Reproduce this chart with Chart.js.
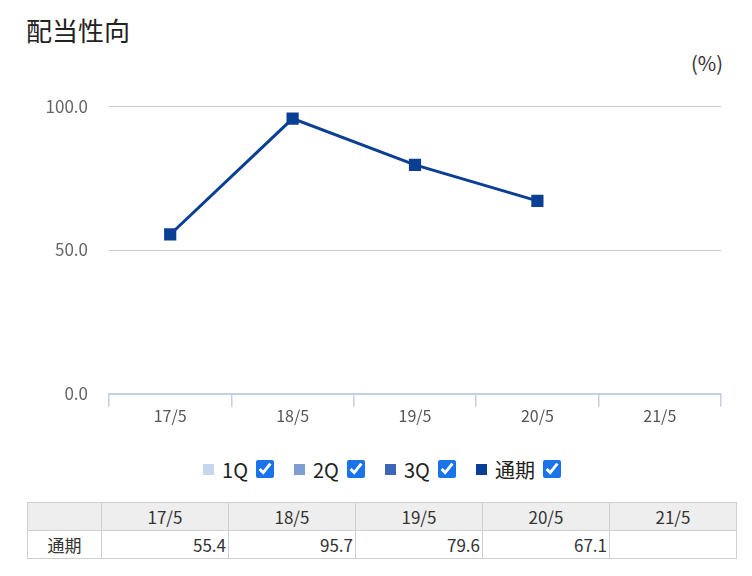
<!DOCTYPE html>
<html lang="ja">
<head>
<meta charset="utf-8">
<script src="https://cdn.jsdelivr.net/npm/chart.js@4/dist/chart.umd.min.js"></script>
<style>
  html, body { margin: 0; padding: 0; background: #fff; }
  body { width: 752px; height: 576px; position: relative; overflow: hidden;
         font-family: "Noto Sans CJK JP", "Noto Sans", sans-serif; color: #222; }
  #title { position: absolute; left: 26px; top: 11px; font-size: 26px; line-height: 38px; color: #222; }
  #unit { position: absolute; right: 29px; top: 49px; font-size: 20px; line-height: 28px; color: #333; }
  #wrap { position: absolute; left: 0; top: 75px; width: 752px; height: 351px; }
  #legend { position: absolute; left: 6px; top: 454px; width: 752px; height: 30px;
            display: flex; justify-content: center; align-items: center; font-size: 20px; color: #222; }
  #legend .item { display: flex; align-items: center; margin: 0 10px; }
  #legend .sw { width: 11px; height: 11px; margin-right: 8px; }
  #legend input { width: 18px; height: 18px; margin: 0 0 0 8px; accent-color: #1a73e8; }
  table { position: absolute; left: 27px; top: 502px; border-collapse: collapse; table-layout: fixed;
          font-size: 17px; color: #333; }
  td, th { border: 1px solid #cfcfcf; height: 27px; padding: 0 2px; font-weight: normal; line-height: 27px; }
  thead th { background: #eeeeee; text-align: center; }
  tbody th { text-align: center; }
  tbody td { text-align: right; }
</style>
</head>
<body>
<div id="title">配当性向</div>
<div id="unit">(%)</div>
<div id="wrap"><canvas id="chart"></canvas></div>
<div id="legend"></div>
<table id="tbl"></table>
<script>
// fiscal periods and payout ratios (%)
const categories = ['17/5', '18/5', '19/5', '20/5', '21/5'];
const q1Values = [null, null, null, null, null];
const q2Values = [null, null, null, null, null];
const q3Values = [null, null, null, null, null];
const annualValues = [55.4, 95.7, 79.6, 67.1, null];
const yTicks = [0, 50, 100];

const seriesNames = ['1Q', '2Q', '3Q', '通期'];
const seriesColors = ['#c6d6ef', '#7e9ed3', '#3c67b7', '#0b3f94'];
const seriesValues = [q1Values, q2Values, q3Values, annualValues];

const datasets = seriesNames.map((name, i) => ({
  label: name,
  data: seriesValues[i],
  borderColor: seriesColors[i],
  backgroundColor: seriesColors[i],
  borderWidth: 3,
  pointStyle: 'rect',
  pointRadius: 6.5,
  pointHoverRadius: 6.5,
  spanGaps: false,
  tension: 0
}));

const chart = new Chart(document.getElementById('chart'), {
  type: 'line',
  data: { labels: categories, datasets },
  options: {
    responsive: true,
    maintainAspectRatio: false,
    animation: false,
    layout: { padding: { top: 2, right: 31, left: 0, bottom: 0 } },
    plugins: { legend: { display: false }, tooltip: { enabled: false } },
    scales: {
      x: {
        offset: true,
        grid: { offset: true, drawOnChartArea: false, drawTicks: true, tickLength: 13, color: '#c5d0df', lineWidth: 1.5 },
        border: { display: true, color: '#c5d0df', width: 2 },
        ticks: { color: '#555', font: { family: '"Noto Sans CJK JP", sans-serif', size: 16 }, padding: 0 }
      },
      y: {
        min: 0, max: 100,
        afterBuildTicks: s => { s.ticks = yTicks.map(v => ({ value: v })); },
        afterFit: s => { s.width = 109; },
        grid: { color: '#cccccc', lineWidth: 1, drawTicks: false },
        border: { display: false },
        ticks: { color: '#666', font: { family: '"Noto Sans CJK JP", sans-serif', size: 17 }, padding: 21,
                 callback: v => Number(v).toFixed(1) }
      }
    }
  }
});

// legend with visibility checkboxes
const legend = document.getElementById('legend');
seriesNames.forEach((name, i) => {
  const item = document.createElement('label');
  item.className = 'item';
  const sw = document.createElement('span');
  sw.className = 'sw';
  sw.style.background = seriesColors[i];
  const txt = document.createElement('span');
  txt.textContent = name;
  const cb = document.createElement('input');
  cb.type = 'checkbox';
  cb.checked = true;
  cb.addEventListener('change', () => { chart.setDatasetVisibility(i, cb.checked); chart.update(); });
  item.append(sw, txt, cb);
  legend.appendChild(item);
});

// data table
const tbl = document.getElementById('tbl');
let html = '<colgroup><col style="width:74px">' + categories.map(() => '<col style="width:127px">').join('') + '</colgroup>';
html += '<thead><tr><th></th>' + categories.map(c => `<th>${c}</th>`).join('') + '</tr></thead>';
html += '<tbody><tr><th>通期</th>' + annualValues.map(v => `<td>${v == null ? '' : v.toFixed(1)}</td>`).join('') + '</tr></tbody>';
tbl.innerHTML = html;
</script>
</body>
</html>
